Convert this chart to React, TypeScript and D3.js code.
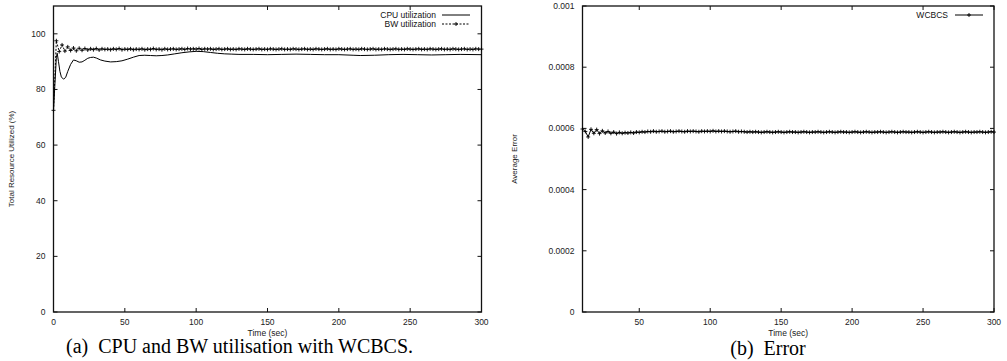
import React, { useRef, useEffect } from "react";
import * as d3 from "d3";

// ---- left panel data: (a) CPU and BW utilisation ----
const cpuPoints: [number, number][] = [
  [0, 72.5], [1, 82], [2, 91.5], [2.6, 93], [3.5, 90], [4.5, 86.5], [5.5, 84.5], [7, 83.7], [8.5, 84.3],
  [10, 86.5], [12, 89], [14, 90.6], [16, 90.3], [18, 89.8], [20, 89.9], [22, 90.5], [24, 91.2], [26, 91.5],
  [28, 91.6], [30, 91.3], [33, 90.6], [36, 90.2], [40, 89.9], [44, 90], [48, 90.3], [52, 90.9], [56, 91.6],
  [60, 92.2], [64, 92.3], [68, 92.2], [72, 92.1], [76, 92.2], [80, 92.4], [85, 92.8], [90, 93.2], [95, 93.5],
  [100, 93.7], [105, 93.6], [110, 93.3], [115, 93], [120, 92.8], [125, 92.7], [130, 92.6], [140, 92.6],
  [150, 92.5], [160, 92.6], [170, 92.7], [180, 92.6], [190, 92.5], [200, 92.5], [210, 92.3], [215, 92.2],
  [225, 92.3], [235, 92.5], [245, 92.6], [255, 92.5], [265, 92.4], [275, 92.5], [285, 92.6], [300, 92.5],
];

// BW utilisation, one sample every 2 s from t = 0
const bwStep = 2;
const bwValues = [
  72.5, 97.5, 93.6, 96.0, 93.8, 95.3, 94.0, 94.9, 93.9, 94.8,
  94.1, 94.7, 94.2, 94.6, 94.3, 94.7, 94.2, 94.6, 94.4, 94.5,
  94.3, 94.6, 94.4, 94.7, 94.3, 94.5, 94.4, 94.6, 94.3, 94.5,
  94.4, 94.6, 94.3, 94.5, 94.4, 94.7, 94.4, 94.5, 94.3, 94.6,
  94.4, 94.5, 94.6, 94.4, 94.5, 94.6, 94.4, 94.7, 94.5, 94.6,
  94.5, 94.7, 94.4, 94.6, 94.5, 94.6, 94.4, 94.5, 94.6, 94.4,
  94.5, 94.6, 94.4, 94.5, 94.4, 94.6, 94.5, 94.4, 94.6, 94.5,
  94.4, 94.5, 94.6, 94.4, 94.5, 94.4, 94.6, 94.5, 94.4, 94.5,
  94.6, 94.4, 94.5, 94.4, 94.6, 94.5, 94.4, 94.5, 94.6, 94.4,
  94.5, 94.4, 94.6, 94.5, 94.4, 94.5, 94.6, 94.4, 94.5, 94.4,
  94.6, 94.5, 94.4, 94.5, 94.6, 94.4, 94.5, 94.4, 94.6, 94.5,
  94.4, 94.5, 94.6, 94.4, 94.5, 94.4, 94.6, 94.5, 94.4, 94.5,
  94.6, 94.4, 94.5, 94.4, 94.6, 94.5, 94.4, 94.5, 94.6, 94.4,
  94.5, 94.4, 94.6, 94.5, 94.4, 94.5, 94.6, 94.4, 94.5, 94.4,
  94.6, 94.5, 94.4, 94.5, 94.6, 94.4, 94.5, 94.4, 94.6, 94.5,
  94.5,
];

const leftXTicks = [0, 50, 100, 150, 200, 250, 300];
const leftYTicks = [0, 20, 40, 60, 80, 100];

// ---- right panel data: (b) Error ----
const errStart = 10;
const errStep = 2;
const errValues = [
  0.000598, 0.000590, 0.000572, 0.000597, 0.000584, 0.000596, 0.000583, 0.000592, 0.000585, 0.000590,
  0.000584, 0.000588, 0.000583, 0.000587, 0.000584, 0.000586, 0.000585, 0.000587, 0.000585, 0.000588,
  0.000587, 0.000589, 0.000588, 0.000590, 0.000589, 0.000591, 0.000589, 0.000590, 0.000591, 0.000589,
  0.000590, 0.000591, 0.000589, 0.000590, 0.000591, 0.000590, 0.000589, 0.000591, 0.000590, 0.000591,
  0.000590, 0.000589, 0.000591, 0.000590, 0.000591, 0.000590, 0.000592, 0.000590, 0.000591, 0.000590,
  0.000591, 0.000590, 0.000589, 0.000590, 0.000591, 0.000589, 0.000590, 0.000589, 0.000588, 0.000589,
  0.000588, 0.000589, 0.000588, 0.000587, 0.000588, 0.000589, 0.000588, 0.000587, 0.000588, 0.000589,
  0.000588, 0.000587, 0.000588, 0.000589, 0.000588, 0.000588, 0.000587, 0.000588, 0.000589, 0.000588,
  0.000587, 0.000588, 0.000588, 0.000589, 0.000588, 0.000587, 0.000588, 0.000589, 0.000588, 0.000587,
  0.000588, 0.000589, 0.000588, 0.000588, 0.000587, 0.000588, 0.000589, 0.000588, 0.000587, 0.000588,
  0.000589, 0.000588, 0.000587, 0.000588, 0.000588, 0.000589, 0.000588, 0.000587, 0.000588, 0.000589,
  0.000588, 0.000587, 0.000588, 0.000589, 0.000588, 0.000588, 0.000587, 0.000588, 0.000589, 0.000588,
  0.000587, 0.000588, 0.000589, 0.000588, 0.000587, 0.000588, 0.000588, 0.000589, 0.000588, 0.000587,
  0.000588, 0.000589, 0.000588, 0.000587, 0.000588, 0.000589, 0.000588, 0.000587, 0.000588, 0.000588,
  0.000589, 0.000588, 0.000587, 0.000588, 0.000589, 0.000588,
];

const rightXTicks = [50, 100, 150, 200, 250, 300];
const rightYTicks = [0, 0.0002, 0.0004, 0.0006, 0.0008, 0.001];
const rightYLabels = ["0", "0.0002", "0.0004", "0.0006", "0.0008", "0.001"];

const SANS = "'Liberation Sans', Arial, sans-serif";
const SERIF = "'Liberation Serif', 'Times New Roman', serif";
const TICK = 4;

const App = () => {
  const svgRef = useRef<SVGSVGElement>(null);

  useEffect(() => {
    const svg = d3.select(svgRef.current);
    svg.selectAll("*").remove();

    // draws frame, mirrored inward ticks and tick labels
    const drawFrame = (
      x: d3.ScaleLinear<number, number>,
      y: d3.ScaleLinear<number, number>,
      xTicks: number[],
      yTicks: number[],
      yLabels: string[]
    ) => {
      const [x0, x1] = x.range();
      const [y0, y1] = y.range();
      const g = svg.append("g");
      g.append("rect")
        .attr("x", x0).attr("y", y1)
        .attr("width", x1 - x0).attr("height", y0 - y1)
        .attr("fill", "none").attr("stroke", "#111").attr("stroke-width", 1.3);

      xTicks.forEach((t) => {
        const px = x(t);
        g.append("line").attr("x1", px).attr("x2", px).attr("y1", y0).attr("y2", y0 - TICK)
          .attr("stroke", "#111");
        g.append("line").attr("x1", px).attr("x2", px).attr("y1", y1).attr("y2", y1 + TICK)
          .attr("stroke", "#111");
        g.append("text").attr("x", px).attr("y", y0 + 13)
          .attr("text-anchor", "middle").attr("font-family", SANS).attr("font-size", 8.5)
          .attr("fill", "#222").text(String(t));
      });

      yTicks.forEach((v, i) => {
        const py = y(v);
        g.append("line").attr("x1", x0).attr("x2", x0 + TICK).attr("y1", py).attr("y2", py)
          .attr("stroke", "#111");
        g.append("line").attr("x1", x1).attr("x2", x1 - TICK).attr("y1", py).attr("y2", py)
          .attr("stroke", "#111");
        g.append("text").attr("x", x0 - 8).attr("y", py + 3)
          .attr("text-anchor", "end").attr("font-family", SANS).attr("font-size", 8.5)
          .attr("fill", "#222").text(yLabels[i]);
      });
    };

    const plusPath = (cx: number, cy: number, r = 2) =>
      `M${cx - r},${cy}H${cx + r}M${cx},${cy - r}V${cy + r}`;

    // ---------- (a) ----------
    const xL = d3.scaleLinear().domain([0, 300]).range([53.5, 481.5]);
    const yL = d3.scaleLinear().domain([0, 110]).range([312, 6]);
    drawFrame(xL, yL, leftXTicks, leftYTicks, leftYTicks.map(String));

    const cpuLine = d3.line<[number, number]>()
      .x((d) => xL(d[0]))
      .y((d) => yL(d[1]));
    svg.append("path").datum(cpuPoints)
      .attr("d", cpuLine).attr("fill", "none").attr("stroke", "#000").attr("stroke-width", 1);

    const bwLine = d3.line<number>()
      .x((d, i) => xL(i * bwStep))
      .y((d) => yL(d));
    svg.append("path").datum(bwValues)
      .attr("d", bwLine).attr("fill", "none").attr("stroke", "#000")
      .attr("stroke-width", 1).attr("stroke-dasharray", "2,1.5");
    svg.append("path")
      .attr("d", bwValues.map((d, i) => plusPath(xL(i * bwStep), yL(d))).join(""))
      .attr("stroke", "#000").attr("stroke-width", 0.9).attr("fill", "none");

    // legend (a)
    const legA = svg.append("g").attr("font-family", SANS).attr("font-size", 8.5).attr("fill", "#111");
    legA.append("text").attr("x", 436).attr("y", 18).attr("text-anchor", "end").text("CPU utilization");
    legA.append("line").attr("x1", 442).attr("x2", 470).attr("y1", 15).attr("y2", 15).attr("stroke", "#000");
    legA.append("text").attr("x", 436).attr("y", 27).attr("text-anchor", "end").text("BW utilization");
    legA.append("line").attr("x1", 442).attr("x2", 470).attr("y1", 24).attr("y2", 24)
      .attr("stroke", "#000").attr("stroke-dasharray", "2,1.5");
    legA.append("path").attr("d", plusPath(456, 24)).attr("stroke", "#000").attr("stroke-width", 0.9);

    svg.append("text")
      .attr("transform", `translate(14, ${yL(55)}) rotate(-90)`)
      .attr("text-anchor", "middle").attr("font-family", SANS).attr("font-size", 8)
      .attr("fill", "#222").text("Total Resource Utilized (%)");
    svg.append("text").attr("x", xL(150)).attr("y", 336)
      .attr("text-anchor", "middle").attr("font-family", SANS).attr("font-size", 8.5)
      .attr("fill", "#222").text("Time (sec)");
    svg.append("text").attr("x", 66).attr("y", 353)
      .attr("font-family", SERIF).attr("font-size", 20).attr("fill", "#000")
      .attr("xml:space", "preserve")
      .text("(a)  CPU and BW utilisation with WCBCS.");

    // ---------- (b) ----------
    const xR = d3.scaleLinear().domain([10, 300]).range([582.5, 994]);
    const yR = d3.scaleLinear().domain([0, 0.001]).range([312, 6]);
    drawFrame(xR, yR, rightXTicks, rightYTicks, rightYLabels);

    const errLine = d3.line<number>()
      .x((d, i) => xR(errStart + i * errStep))
      .y((d) => yR(d));
    svg.append("path").datum(errValues)
      .attr("d", errLine).attr("fill", "none").attr("stroke", "#000").attr("stroke-width", 1);
    svg.append("path")
      .attr("d", errValues.map((d, i) => plusPath(xR(errStart + i * errStep), yR(d))).join(""))
      .attr("stroke", "#000").attr("stroke-width", 0.9).attr("fill", "none");

    const legB = svg.append("g").attr("font-family", SANS).attr("font-size", 8.5).attr("fill", "#111");
    legB.append("text").attr("x", 948).attr("y", 18).attr("text-anchor", "end").text("WCBCS");
    legB.append("line").attr("x1", 955).attr("x2", 983).attr("y1", 15).attr("y2", 15).attr("stroke", "#000");
    legB.append("path").attr("d", plusPath(969, 15)).attr("stroke", "#000").attr("stroke-width", 0.9);

    svg.append("text")
      .attr("transform", `translate(517, ${yR(0.0005)}) rotate(-90)`)
      .attr("text-anchor", "middle").attr("font-family", SANS).attr("font-size", 8)
      .attr("fill", "#222").text("Average Error");
    svg.append("text").attr("x", xR(155)).attr("y", 336)
      .attr("text-anchor", "middle").attr("font-family", SANS).attr("font-size", 8.5)
      .attr("fill", "#222").text("Time (sec)");
    svg.append("text").attr("x", 768).attr("y", 355)
      .attr("text-anchor", "middle").attr("font-family", SERIF).attr("font-size", 20)
      .attr("fill", "#000").attr("xml:space", "preserve")
      .text("(b)  Error");
  }, []);

  return (
    <div style={{ position: "absolute", left: 0, top: 0 }}>
      <svg ref={svgRef} width={1007} height={361} style={{ display: "block", background: "#fff" }} />
    </div>
  );
};

export default App;
